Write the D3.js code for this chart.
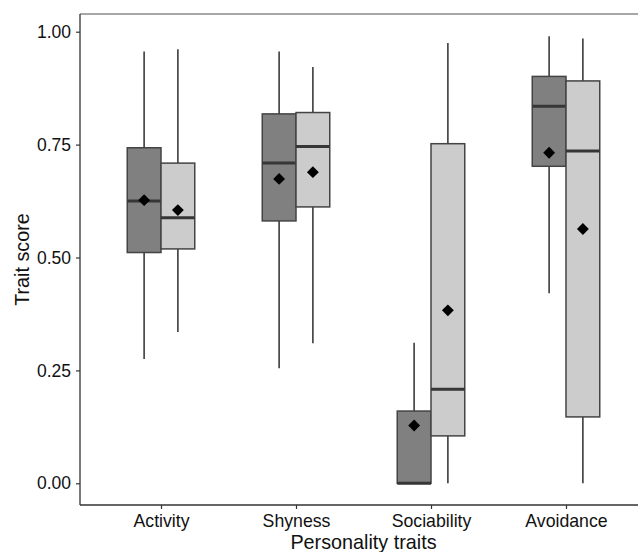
<!DOCTYPE html>
<html>
<head>
<meta charset="utf-8">
<script src="https://cdn.jsdelivr.net/npm/d3@7"></script>
<style>
  html, body { margin: 0; padding: 0; background: #fff; }
  svg { display: block; font-family: "Liberation Sans", Arial, sans-serif; }
</style>
</head>
<body>
<svg id="chart" width="638" height="552"></svg>
<script>
// ---- data ----
const categories = ["Activity", "Shyness", "Sociability", "Avoidance"];
const groups = ["A", "B"];
const groupFill = ["#808080", "#cccccc"];
// [category][group]
const whiskerLow  = [[0.275, 0.335], [0.255, 0.310], [0.000, 0.000], [0.421, 0.000]];
const boxQ1       = [[0.511, 0.519], [0.581, 0.612], [0.000, 0.105], [0.702, 0.147]];
const medians     = [[0.625, 0.588], [0.709, 0.746], [0.000, 0.208], [0.835, 0.736]];
const boxQ3       = [[0.743, 0.709], [0.818, 0.821], [0.160, 0.752], [0.901, 0.891]];
const whiskerHigh = [[0.956, 0.961], [0.956, 0.922], [0.311, 0.975], [0.990, 0.985]];
const means       = [[0.627, 0.605], [0.674, 0.689], [0.128, 0.383], [0.732, 0.563]];
const yTicks = [0, 0.25, 0.5, 0.75, 1.0];

// ---- layout ----
const svg = d3.select("#chart");
const panel = {left: 80, top: 14, right: 647, bottom: 505};

// ggplot-style discrete expansion: 0.6 units each side
const step = (panel.right - panel.left) / (categories.length - 1 + 1.2);
const xc = c => panel.left + step * (0.6 + categories.indexOf(c));
const xg = d3.scaleBand().domain(groups).range([-step * 0.25, step * 0.25]);

const y = d3.scaleLinear().domain([0, 1]).range([483.3, 31.7]);

// panel border (top)
svg.append("line").attr("x1", panel.left).attr("x2", panel.right)
  .attr("y1", panel.top).attr("y2", panel.top)
  .attr("stroke", "#8a8a8a").attr("stroke-width", 1.5);

// boxes
const data = [];
categories.forEach((c, i) => groups.forEach((g, j) => data.push({
  c, g, j, lo: whiskerLow[i][j], q1: boxQ1[i][j], med: medians[i][j],
  q3: boxQ3[i][j], hi: whiskerHigh[i][j], mean: means[i][j]
})));

const bw = xg.bandwidth();
const gBox = svg.append("g").selectAll("g").data(data).join("g")
  .attr("transform", d => `translate(${xc(d.c) + xg(d.g)},0)`);

gBox.append("line").attr("x1", bw / 2).attr("x2", bw / 2)
  .attr("y1", d => y(d.hi)).attr("y2", d => y(d.q3))
  .attr("stroke", "#474747").attr("stroke-width", 1.7);
gBox.append("line").attr("x1", bw / 2).attr("x2", bw / 2)
  .attr("y1", d => y(d.q1)).attr("y2", d => y(d.lo))
  .attr("stroke", "#474747").attr("stroke-width", 1.7);
gBox.append("rect").attr("x", 0).attr("width", bw)
  .attr("y", d => y(d.q3)).attr("height", d => y(d.q1) - y(d.q3))
  .attr("fill", d => groupFill[d.j]).attr("stroke", "#444").attr("stroke-width", 1.5);
gBox.append("line").attr("x1", 0).attr("x2", bw)
  .attr("y1", d => y(d.med)).attr("y2", d => y(d.med))
  .attr("stroke", "#363636").attr("stroke-width", 3);
gBox.append("path")
  .attr("d", d3.symbol(d3.symbolDiamond2, 90))
  .attr("transform", d => `translate(${bw / 2},${y(d.mean)})`)
  .attr("fill", "#000");

// axes
const yAxis = d3.axisLeft(y).tickValues(yTicks).tickFormat(d3.format(".2f")).tickSize(4).tickPadding(5);
const gy = svg.append("g").attr("transform", `translate(${panel.left},0)`).call(yAxis);
gy.select(".domain").remove();
gy.selectAll(".tick line").attr("stroke", "#333").attr("stroke-width", 1.2);
gy.selectAll(".tick text").attr("font-size", 17.5).attr("fill", "#111")
  .attr("font-family", "Liberation Sans, Arial, sans-serif");
svg.append("line").attr("x1", panel.left).attr("x2", panel.left)
  .attr("y1", panel.top).attr("y2", panel.bottom)
  .attr("stroke", "#333").attr("stroke-width", 1.3);

const xScaleAxis = d3.scalePoint().domain(categories)
  .range([xc(categories[0]), xc(categories[categories.length - 1])]);
const xAxis = d3.axisBottom(xScaleAxis).tickSize(4).tickPadding(5);
const gx = svg.append("g").attr("transform", `translate(0,${panel.bottom})`).call(xAxis);
gx.select(".domain").remove();
gx.selectAll(".tick line").attr("stroke", "#333").attr("stroke-width", 1.2);
gx.selectAll(".tick text").attr("font-size", 17.7).attr("fill", "#111")
  .attr("font-family", "Liberation Sans, Arial, sans-serif");
svg.append("line").attr("x1", panel.left).attr("x2", panel.right)
  .attr("y1", panel.bottom).attr("y2", panel.bottom)
  .attr("stroke", "#333").attr("stroke-width", 1.3);

// titles
svg.append("text").attr("x", (panel.left + panel.right) / 2).attr("y", 549)
  .attr("text-anchor", "middle").attr("font-size", 19.8).attr("fill", "#111")
  .text("Personality traits");
svg.append("text").attr("transform", `translate(29,${(panel.top + panel.bottom) / 2}) rotate(-90)`)
  .attr("text-anchor", "middle").attr("font-size", 19.8).attr("fill", "#111")
  .text("Trait score");
</script>
</body>
</html>
